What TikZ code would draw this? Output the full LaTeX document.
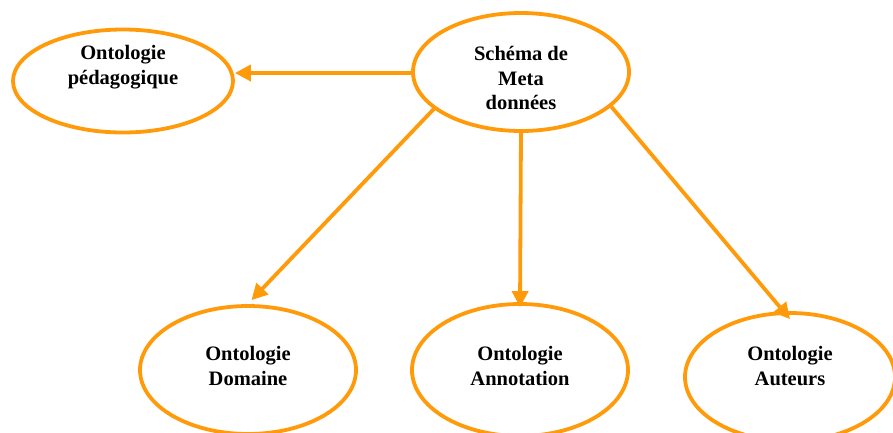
\documentclass[tikz,border=0pt]{standalone}
\usepackage{fontspec}
\setmainfont{Liberation Serif}
\usetikzlibrary{shapes.geometric,arrows.meta}
\definecolor{onto}{RGB}{255,155,10}
\begin{document}
\begin{tikzpicture}[x=1pt,y=-1pt,
  oval/.style={ellipse,draw=onto,line width=3.8pt,fill=white,inner sep=0pt},
  caption/.style={align=center,font=\bfseries\fontsize{20.5}{24.5}\selectfont},
  link/.style={draw=onto,line width=3.8pt,-{Triangle[length=16pt,width=16pt]}}]
\useasboundingbox (0,0) rectangle (893,432);
\clip (0,0) rectangle (893,432);
% ellipses
\node[oval,minimum width=220pt,minimum height=103pt] (ped) at (123,81) {};
\node[oval,minimum width=216pt,minimum height=118pt] (sch) at (521,72) {};
\node[oval,minimum width=216pt,minimum height=128pt] (dom) at (248,370) {};
\node[oval,minimum width=216pt,minimum height=132pt] (ann) at (520,370) {};
\node[oval,minimum width=210pt,minimum height=128pt] (aut) at (790,377) {};
% captions
\node[caption] (tped) at (123,67) {Ontologie\\pédagogique};
\node[caption] (tsch) at (521,78) {Schéma de\\Meta\\données};
\node[caption] (tdom) at (248,366) {Ontologie\\Domaine};
\node[caption] (tann) at (520,366) {Ontologie\\Annotation};
\node[caption] (taut) at (790,366) {Ontologie\\Auteurs};
% connectors
\draw[link] (sch.west |- 0,73) -- (ped.east |- 0,73);
\draw[link] (sch.203) -- ([yshift=4pt]dom.87);
\draw[link] (sch.south) -- ([yshift=-5pt]ann.north);
\draw[link] (sch.-21) -- ([yshift=-8pt]aut.north);
\end{tikzpicture}
\end{document}
